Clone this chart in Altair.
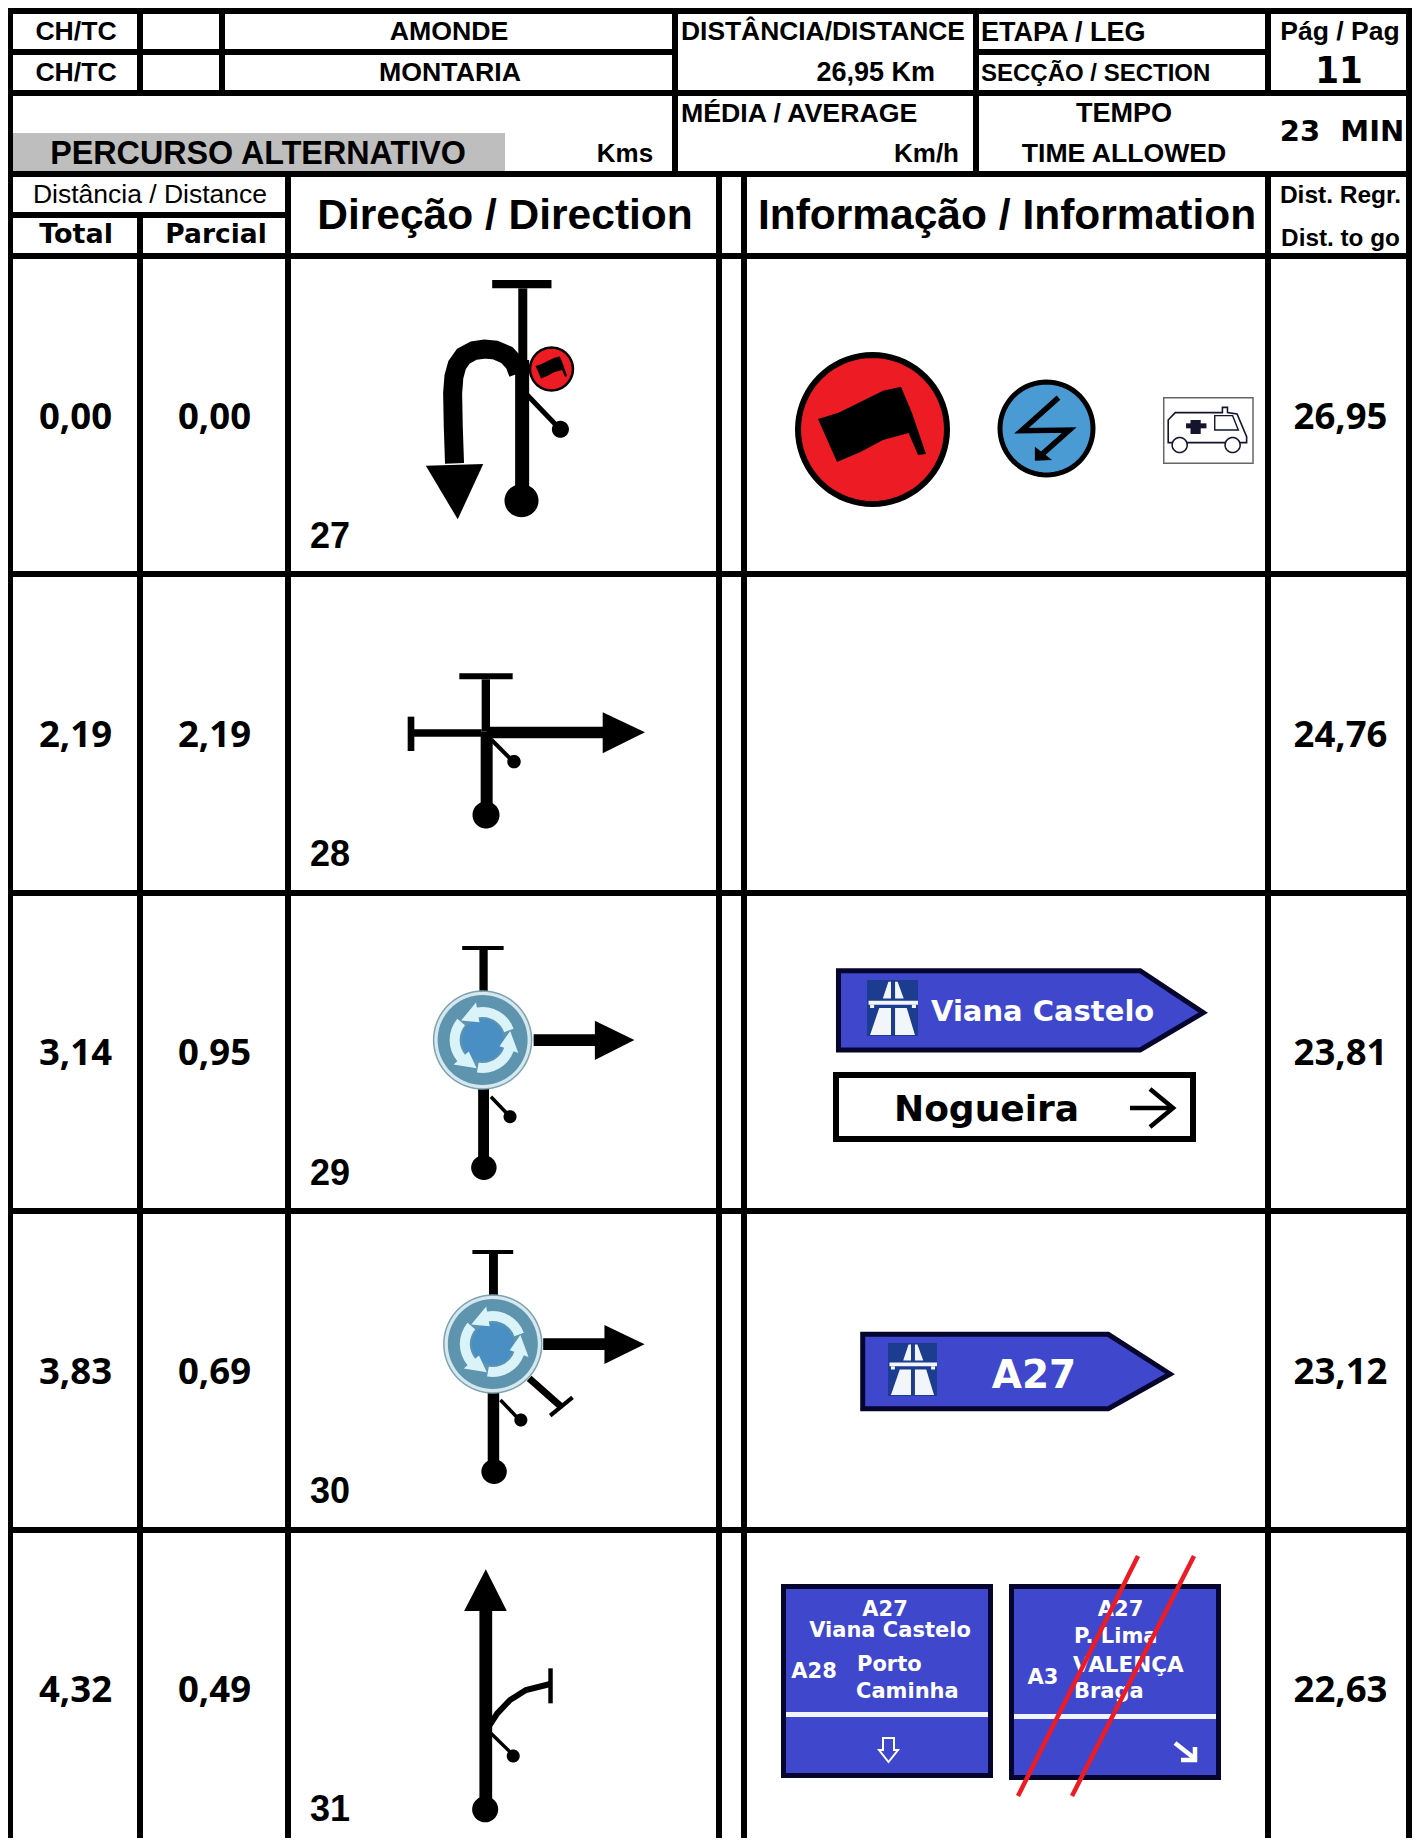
import math
import altair as alt
import pandas as pd

# ---- table contents -------------------------------------------------
row_ids = ["27", "28", "29", "30", "31"]
totals = ["0,00", "2,19", "3,14", "3,83", "4,32"]
partials = ["0,00", "2,19", "0,95", "0,69", "0,49"]
to_go = ["26,95", "24,76", "23,81", "23,12", "22,63"]
row_baselines = [428.5, 746.5, 1065, 1383.5, 1702]
id_baselines = [548, 866, 1184.5, 1503, 1821]

SANS = "Liberation Sans"
WIDE = "DejaVu Sans"
NUM = "Open Sans"
BLUE = "#3f48cc"
NAVY = "#05052e"
ICON = "#1b3c8f"
RED = "#ed1c24"

# text, x, baseline, size, font, weight, align, colour
header_texts = [
    ("CH/TC", 76, 40, 26.6, SANS, "bold", "center", "black"),
    ("CH/TC", 76, 81, 26.6, SANS, "bold", "center", "black"),
    ("AMONDE", 449, 40, 26.7, SANS, "bold", "center", "black"),
    ("MONTARIA", 450, 81, 26.7, SANS, "bold", "center", "black"),
    ("DISTÂNCIA/DISTANCE", 681, 40, 26.4, SANS, "bold", "left", "black"),
    ("26,95 Km", 935, 81, 27, SANS, "bold", "right", "black"),
    ("ETAPA / LEG", 981, 41, 27, SANS, "bold", "left", "black"),
    ("SECÇÃO / SECTION", 981, 81, 24, SANS, "bold", "left", "black"),
    ("Pág / Pag", 1340, 40, 26.5, SANS, "bold", "center", "black"),
    ("11", 1339, 83, 38, "DejaVu Sans Condensed", "bold", "center", "black"),
    ("MÉDIA / AVERAGE", 681, 122, 26.7, SANS, "bold", "left", "black"),
    ("Km/h", 959, 162, 26, SANS, "bold", "right", "black"),
    ("TEMPO", 1124, 122, 27, SANS, "bold", "center", "black"),
    ("TIME ALLOWED", 1124, 162, 26.6, SANS, "bold", "center", "black"),
    ("23\u00a0\u00a0MIN", 1342, 141, 29, WIDE, "bold", "center", "black"),
    ("PERCURSO ALTERNATIVO", 258, 164, 32.3, SANS, "bold", "center", "black"),
    ("Kms", 625, 162, 26, SANS, "bold", "center", "black"),
    ("Distância / Distance", 150, 203, 26.5, SANS, "normal", "center", "black"),
    ("Total", 76, 243, 27, WIDE, "bold", "center", "black"),
    ("Parcial", 216, 243, 26.5, WIDE, "bold", "center", "black"),
    ("Direção / Direction", 505, 229, 42.5, SANS, "bold", "center", "black"),
    ("Informação / Information", 1007, 229, 42.5, SANS, "bold", "center", "black"),
    ("Dist. Regr.", 1340.5, 203, 24.5, SANS, "bold", "center", "black"),
    ("Dist. to go", 1340.5, 246, 24.3, SANS, "bold", "center", "black"),
]
sign_texts = [
    ("Viana Castelo", 931, 1021, 29, WIDE, "bold", "left", "white"),
    ("Nogueira", 894, 1121, 36, WIDE, "bold", "left", "black"),
    ("A27", 1034, 1388, 39, WIDE, "bold", "center", "white"),
    ("A27", 885, 1616, 21, WIDE, "bold", "center", "white"),
    ("Viana Castelo", 890, 1637, 21, WIDE, "bold", "center", "white"),
    ("A28", 814, 1678, 21, WIDE, "bold", "center", "white"),
    ("Porto", 857, 1671, 21, WIDE, "bold", "left", "white"),
    ("Caminha", 856, 1698, 21, WIDE, "bold", "left", "white"),
    ("A27", 1120.5, 1616, 21, WIDE, "bold", "center", "white"),
    ("P. Lima", 1074, 1643, 21, WIDE, "bold", "left", "white"),
    ("A3", 1043, 1684, 21, WIDE, "bold", "center", "white"),
    ("VALENÇA", 1073, 1672, 21.5, WIDE, "bold", "left", "white"),
    ("Braga", 1074, 1698, 21, WIDE, "bold", "left", "white"),
]
row_texts = []
for i in range(5):
    row_texts.append((totals[i], 75.5, row_baselines[i], 36.5, NUM, "bold", "center", "black"))
    row_texts.append((partials[i], 214.5, row_baselines[i], 36.5, NUM, "bold", "center", "black"))
    row_texts.append((to_go[i], 1340.5, row_baselines[i], 36.5, NUM, "bold", "center", "black"))
    row_texts.append((row_ids[i], 310, id_baselines[i], 36, SANS, "bold", "left", "black"))

# ---- ruled table (x, x2, y, y2, colour) ------------------------------
BOTTOM = 1842
table_cells = [
    (13, 505, 133, 171, "#bebebe"),
    (7, 13, 8, BOTTOM, "black"), (1406, 1412, 8, BOTTOM, "black"),
    (7, 1412, 8, 14, "black"), (7, 1412, 90, 96, "black"), (7, 1412, 171, 177, "black"),
    (7, 1412, 253, 259, "black"), (7, 1412, 571, 577, "black"), (7, 1412, 890, 896, "black"),
    (7, 1412, 1208, 1214, "black"), (7, 1412, 1527, 1533, "black"),
    (7, 673, 49, 55, "black"), (973, 1265, 49, 55, "black"), (7, 285, 212, 218, "black"),
    (137, 143, 8, 96, "black"), (219, 225, 8, 96, "black"),
    (672, 678, 8, 171, "black"), (973, 979, 8, 171, "black"), (1265, 1271, 8, 96, "black"),
    (137, 143, 212, BOTTOM, "black"), (285, 291, 171, BOTTOM, "black"),
    (716, 722, 171, BOTTOM, "black"), (741, 747, 171, BOTTOM, "black"),
    (1265, 1271, 171, BOTTOM, "black"),
]

# ---- pictograms, drawn as planar GeoJSON ----------------------------
features = []


def z(pts, ox, oy, sx=1.568, sy=3.0):
    return [(ox + x / sx, oy + y / sy) for x, y in pts]


def poly(pts, fill, stroke="none", sw=0):
    ring = [list(p) for p in pts]
    ring.append(ring[0])
    features.append({"type": "Feature", "properties": {"fill": fill, "stroke": stroke, "sw": sw},
                     "geometry": {"type": "Polygon", "coordinates": [ring]}})


def line(pts, stroke="black", sw=4):
    features.append({"type": "Feature", "properties": {"fill": "none", "stroke": stroke, "sw": sw},
                     "geometry": {"type": "LineString", "coordinates": [list(p) for p in pts]}})


def ellipse(cx, cy, rx, ry, fill, stroke="none", sw=0):
    pts = [(cx + rx * math.cos(2 * math.pi * k / 72), cy + ry * math.sin(2 * math.pi * k / 72)) for k in range(72)]
    poly(pts, fill, stroke, sw)


def box(x0, y0, x1, y1, fill, stroke="none", sw=0):
    poly([(x0, y0), (x1, y0), (x1, y1), (x0, y1)], fill, stroke, sw)


def roundabout(cx, cy):
    ellipse(cx, cy, 49, 49, "#d6e8ee", "#7fa2b3", 1.5)
    ellipse(cx, cy, 45, 45, "#5f94ae")
    ellipse(cx, cy, 21, 21, "#4a8fc4")
    for turn in (0, -120, -240):
        a = lambda d: math.radians(d + turn)
        pt = lambda r, d: (cx + r * math.cos(a(d)), cy + r * math.sin(a(d)))
        outer = [pt(33, d) for d in range(-20, -101, -10)]
        inner = [pt(23, d) for d in range(-100, -19, 10)]
        head = [pt(38, -100), pt(29, -138), pt(18, -100)]
        poly(outer + head + inner, "#d9f3f9")


def motorway(x0, y0, x1, y1):
    box(x0, y0, x1, y1, ICON)
    w, h = x1 - x0, y1 - y0
    parts = [
        [(.31, .33), (.47, .33), (.47, .03), (.42, .03)],
        [(.55, .33), (.72, .33), (.6, .03), (.55, .03)],
        [(.03, .37), (1, .37), (1, .44), (.03, .44)],
        [(.06, .44), (.14, .44), (.14, .5), (.06, .5)],
        [(.88, .44), (.96, .44), (.96, .5), (.88, .5)],
        [(.24, .5), (.47, .5), (.47, .98), (.06, .98)],
        [(.55, .5), (.78, .5), (.94, .98), (.55, .98)],
    ]
    for p in parts:
        poly([(x0 + u * w, y0 + v * h) for u, v in p], "#f2f6fb")


flag_shape = [(818, 419), (838.5, 412.7), (860.8, 401.7), (883, 390.7), (901, 386.7), (912, 413),
              (926, 454), (918, 455), (908.6, 433), (883, 440), (861, 451.7), (837, 462)]


def danger_flag(cx, cy, r, sw):
    ellipse(cx, cy, r - sw / 2, r - sw / 2, RED, "black", sw)
    k = r / 77.5
    poly([(cx + (x - 872.5) * k, cy + (y - 429.5) * k) for x, y in flag_shape], "black")


# Row 27
O = (290, 260)
box(*z([(317, 60)], *O)[0], *z([(410, 85)], *O)[0], "black")
line(z([(365, 85), (365, 300)], *O), sw=9)
line(z([(364, 300), (364, 700)], *O), sw=14)
ellipse(*z([(363, 722)], *O)[0], 17, 16.5, "black")
line(z([(358, 340), (352, 310), (340, 285), (322, 270), (305, 267), (288, 272), (272, 288), (262, 315),
        (257, 350), (255, 400), (256, 500), (258, 610)], *O), sw=19)
poly(z([(213, 617), (303, 612), (263, 778)], *O), "black")
line(z([(372, 405), (422, 505)], *O), sw=5)
ellipse(*z([(424, 508)], *O)[0], 8.5, 8.5, "black")
danger_flag(*z([(410, 327)], *O)[0], 22.7, 2.5)

danger_flag(872.5, 429.5, 77.5, 6)
ellipse(1046.5, 428.5, 46.5, 46.5, "#4a9bd4", "black", 5)
line(z([(1205, 413), (1147, 512), (1222, 510), (1172, 595)], *O), sw=5.5)
poly(z([(1168, 560), (1168, 602), (1195, 600)], *O), "black")
box(*z([(1370, 413)], *O)[0], *z([(1510, 610)], *O)[0], "white", "#666666", 1.5)
poly(z([(1377, 548), (1377, 480), (1388, 458), (1462, 458), (1462, 442), (1470, 442), (1470, 458),
        (1485, 462), (1500, 530), (1500, 548)], *O), "white", "#14142e", 1.6)
poly(z([(1450, 467), (1478, 467), (1487, 510), (1450, 510)], *O), "white", "#14142e", 1.4)
box(*z([(1412, 480)], *O)[0], *z([(1428, 522)], *O)[0], "#14142e")
box(*z([(1405, 490)], *O)[0], *z([(1437, 505)], *O)[0], "#14142e")
ellipse(*z([(1395, 555)], *O)[0], 7.5, 7.5, "white", "#14142e", 1.6)
ellipse(*z([(1478, 555)], *O)[0], 7.5, 7.5, "white", "#14142e", 1.6)

# Row 28
O = (380, 650)
S3 = dict(sx=3, sy=3)
box(*z([(238, 70)], *O, **S3)[0], *z([(398, 88)], *O, **S3)[0], "black")
box(*z([(305, 88)], *O, **S3)[0], *z([(330, 245)], *O, **S3)[0], "black")
box(*z([(302, 245)], *O, **S3)[0], *z([(338, 470)], *O, **S3)[0], "black")
ellipse(*z([(318, 495)], *O, **S3)[0], 13.5, 13.5, "black")
box(*z([(100, 238)], *O, **S3)[0], *z([(305, 260)], *O, **S3)[0], "black")
box(*z([(83, 200)], *O, **S3)[0], *z([(103, 303)], *O, **S3)[0], "black")
box(*z([(320, 230)], *O, **S3)[0], *z([(670, 265)], *O, **S3)[0], "black")
poly(z([(668, 187), (668, 310), (795, 247)], *O, **S3), "black")
line(z([(335, 270), (400, 335)], *O, **S3), sw=4)
ellipse(*z([(402, 335)], *O, **S3)[0], 6.7, 6.7, "black")

# Row 29
O = (290, 900)
box(*z([(270, 138)], *O)[0], *z([(335, 150)], *O)[0], "black")
box(*z([(297, 150)], *O)[0], *z([(310, 280)], *O)[0], "black")
box(*z([(295, 560)], *O)[0], *z([(312, 790)], *O)[0], "black")
ellipse(*z([(304, 803)], *O)[0], 12.7, 12.3, "black")
line(z([(315, 590), (345, 650)], *O), sw=3.5)
ellipse(*z([(345, 650)], *O)[0], 6.5, 6.5, "black")
box(*z([(382, 403)], *O)[0], *z([(480, 438)], *O)[0], "black")
poly(z([(478, 362), (478, 480), (540, 420)], *O), "black")
roundabout(*z([(302, 420)], *O)[0])

poly(z([(860, 212), (1333, 212), (1432, 338), (1333, 450), (860, 450)], *O), BLUE, NAVY, 5)
motorway(867, 980, 918, 1036)
box(836, 1075, 1193, 1139, "white", "black", 6)
line([(1130, 1108), (1172, 1108)], sw=4.5)
line([(1150, 1089), (1173, 1108), (1150, 1127)], sw=4.5)

# Row 30
O = (290, 1210)
box(*z([(286, 120)], *O)[0], *z([(350, 132)], *O)[0], "black")
box(*z([(312, 132)], *O)[0], *z([(326, 262)], *O)[0], "black")
box(*z([(310, 545)], *O)[0], *z([(328, 775)], *O)[0], "black")
ellipse(*z([(320, 785)], *O)[0], 12.7, 12.3, "black")
line(z([(330, 570), (360, 630)], *O), sw=3.5)
ellipse(*z([(362, 630)], *O)[0], 6.5, 6.5, "black")
line(z([(375, 505), (425, 590)], *O), sw=7)
line(z([(408, 617), (443, 562)], *O), sw=4)
box(*z([(397, 385)], *O)[0], *z([(495, 420)], *O)[0], "black")
poly(z([(493, 345), (493, 462), (556, 403)], *O), "black")
roundabout(*z([(318, 402)], *O)[0])

poly(z([(898, 373), (1283, 373), (1380, 492), (1283, 596), (898, 596)], *O), BLUE, NAVY, 5)
motorway(888, 1343, 937, 1396)

# Row 31
O = (290, 1530)
poly(z([(307, 118), (273, 243), (340, 243)], *O), "black")
box(*z([(297, 243)], *O)[0], *z([(317, 810)], *O)[0], "black")
ellipse(*z([(306, 838)], *O)[0], 13, 13, "black")
line(z([(313, 585), (325, 550), (345, 510), (370, 480), (408, 462)], *O), sw=6)
box(*z([(405, 415)], *O)[0], *z([(412, 520)], *O)[0], "black")
line(z([(315, 610), (350, 675)], *O), sw=3.5)
ellipse(*z([(350, 678)], *O)[0], 6.5, 6.5, "black")

box(783.5, 1586.5, 990.5, 1775.5, BLUE, NAVY, 5)
box(786, 1712, 988, 1717, "#f2f4fb")
poly([(883, 1738), (894, 1738), (894, 1750), (898, 1750), (888.5, 1762), (879, 1750), (883, 1750)],
     BLUE, "white", 2)
box(1011.5, 1586.5, 1218.5, 1777.5, BLUE, NAVY, 5)
box(1014, 1714, 1216, 1719, "#f2f4fb")
line([(1175, 1743), (1194, 1758)], stroke="white", sw=4.5)
line([(1195, 1747), (1195, 1760), (1181, 1760)], stroke="white", sw=4.5)

# Strike-through on the second panel (x, y, x2, y2)
strike_lines = [(1138, 1556, 1018, 1796), (1194, 1556, 1072, 1796)]

# ---- chart ------------------------------------------------------------
WIDTH, HEIGHT = 1405, 1830
x_scale = alt.Scale(domain=[8, 8 + WIDTH], range=[0, WIDTH], nice=False, zero=False)
y_scale = alt.Scale(domain=[8, 8 + HEIGHT], range=[0, HEIGHT], nice=False, zero=False)

cells = pd.DataFrame(table_cells, columns=["x", "x2", "y", "y2", "fill"])
cells["y2"] = cells["y2"].clip(upper=8 + HEIGHT)
grid = alt.Chart(cells).mark_rect(strokeWidth=0).encode(
    x=alt.X("x:Q", scale=x_scale, axis=None), x2="x2:Q",
    y=alt.Y("y:Q", scale=y_scale, axis=None), y2="y2:Q",
    fill=alt.Fill("fill:N", scale=None),
)

glyphs = alt.Chart(alt.Data(values=features)).mark_geoshape(
    strokeCap="butt", strokeJoin="miter", strokeMiterLimit=10
).encode(
    fill=alt.Fill("properties.fill:N", scale=None),
    stroke=alt.Stroke("properties.stroke:N", scale=None),
    strokeWidth=alt.StrokeWidth("properties.sw:Q", scale=None),
).project(type="identity", scale=1, translate=[-8, -8])

texts = pd.DataFrame(header_texts + sign_texts + row_texts,
                     columns=["t", "x", "y", "size", "font", "weight", "align", "color"])
text_layers = []
for (font, weight, align), g in texts.groupby(["font", "weight", "align"], sort=False):
    text_layers.append(
        alt.Chart(g).mark_text(font=font, fontWeight=weight, align=align, baseline="alphabetic").encode(
            x=alt.X("x:Q", scale=x_scale, axis=None),
            y=alt.Y("y:Q", scale=y_scale, axis=None),
            text="t:N",
            size=alt.Size("size:Q", scale=None),
            color=alt.Color("color:N", scale=None),
        )
    )

strikes = alt.Chart(pd.DataFrame(strike_lines, columns=["x", "y", "x2", "y2"])).mark_rule(
    color=RED, strokeWidth=4.5
).encode(
    x=alt.X("x:Q", scale=x_scale, axis=None), x2="x2:Q",
    y=alt.Y("y:Q", scale=y_scale, axis=None), y2="y2:Q",
)

chart = alt.layer(grid, glyphs, *text_layers, strikes).properties(
    width=WIDTH, height=HEIGHT, padding=0, autosize=alt.AutoSizeParams(type="none"), background="white"
).configure_view(stroke=None)

chart.save("out.html", embed_options={"renderer": "svg", "actions": False})
